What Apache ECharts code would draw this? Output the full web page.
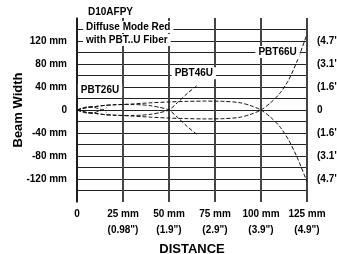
<!DOCTYPE html>
<html>
<head>
<meta charset="utf-8">
<script src="https://cdn.jsdelivr.net/npm/echarts@6/dist/echarts.min.js"></script>
<style>
  html, body { margin: 0; padding: 0; background: #fff; }
  #chart { width: 337px; height: 254px; }
</style>
</head>
<body>
<div id="chart"></div>
<script>
const FONT = "'Liberation Sans Narrow', 'Arial Narrow', 'Liberation Sans', Arial, sans-serif";

// x axis ticks (mm) and labels
const xTicks = [0, 25, 50, 75, 100, 125];
const xLabels = ['0', '25 mm\n(0.98")', '50 mm\n(1.9")', '75 mm\n(2.9")', '100 mm\n(3.9")', '125 mm\n(4.9")'];

// y axis labelled ticks
const yTicks = [120, 80, 40, 0, -40, -80, -120];
const yLabelsMm = ['120 mm', '80 mm', '40 mm', '0', '-40 mm', '-80 mm', '-120 mm'];
const yLabelsIn = ['(4.7")', '(3.1")', '(1.6")', '0', '(1.6")', '(3.1")', '(4.7")'];

// PBT26U beam
const x26 = [0, 3, 6, 9, 12, 14, 16];
const up26 = [0, 3.5, 5.5, 5, 2, 0, -4];
const low26 = [0, -3.5, -5.5, -5, -2, 0, 4];

// PBT46U beam
const x46 = [0, 5, 10, 15, 20, 25, 30, 35, 40, 45, 50, 55, 60, 65];
const up46 = [0, 4, 6, 8, 9, 9.5, 9.5, 9, 7.5, 4.5, 0, -14, -29, -42];
const low46 = [0, -4, -6, -8, -9, -9.5, -9.5, -9, -7.5, -4.5, 0, 14, 29, 42];

// PBT66U beam
const x66 = [0, 5, 10, 15, 20, 30, 40, 50, 60, 70, 80, 88, 94, 100, 105, 110, 115, 120, 125];
const up66 = [0, 4, 6, 8, 9, 10.5, 12.5, 14, 15, 15.5, 15, 13, 8, 0, -12, -28, -52, -85, -125];
const low66 = [0, -4, -6, -8, -9, -10.5, -12.5, -14, -15, -15.5, -15, -13, -8, 0, 12, 28, 52, 88, 132];

// curve labels
const curveNames = ['PBT26U', 'PBT46U', 'PBT66U'];
const curveLabelX = [12.5, 63.5, 109];
const curveLabelY = [35, 64, 101];

const titleLines = ['D10AFPY', 'Diffuse Mode Red', 'with PBT..U Fiber'];

function pairs(xs, ys) {
  return xs.map((x, i) => [x, ys[i]]);
}

// horizontal grid every 20 mm, but none on the top/bottom edge
const hColors = [];
for (let v = -160; v <= 160; v += 20) {
  hColors.push(v === -160 || v === 160 ? 'rgba(0,0,0,0)' : '#222');
}

const curveStyle = { color: '#111', width: 1, type: [4, 2] };
const curves = [
  [x26, up26], [x26, low26],
  [x46, up46], [x46, low46],
  [x66, up66], [x66, low66],
];

const txt = { fontFamily: FONT, fontSize: 10, fontWeight: 'bold', color: '#000' };

const chart = echarts.init(document.getElementById('chart'));

chart.setOption({
  animation: false,
  backgroundColor: '#fff',
  textStyle: { fontFamily: FONT },
  title: titleLines.map((t, i) => ({
    text: t,
    left: i === 0 ? 85 : 83,
    top: [6, 21, 34][i],
    padding: [1, 3],
    backgroundColor: '#fff',
    textStyle: txt,
  })),
  grid: { left: 77, right: 30, top: 18, bottom: 52, containLabel: false, outerBoundsMode: 'none' },
  xAxis: {
    type: 'value',
    min: 0,
    max: 125,
    interval: 25,
    name: 'DISTANCE',
    nameLocation: 'middle',
    nameGap: 30,
    nameTextStyle: { fontFamily: FONT, fontSize: 13, fontWeight: 'bold', color: '#000' },
    axisLine: { show: false },
    axisTick: { show: false },
    axisLabel: Object.assign({}, txt, {
      margin: 4,
      lineHeight: 16,
      formatter: (v) => {
        const i = xTicks.indexOf(v);
        return i >= 0 ? xLabels[i] : '';
      },
    }),
    splitLine: { show: true, lineStyle: { color: '#444', width: 2 } },
  },
  yAxis: [
    {
      type: 'value',
      min: -160,
      max: 160,
      interval: 20,
      name: 'Beam Width',
      nameLocation: 'middle',
      nameGap: 52,
      nameMoveOverlap: false,
      nameTextStyle: { fontFamily: FONT, fontSize: 13, fontWeight: 'bold', color: '#000' },
      axisLine: { show: true, lineStyle: { color: '#111', width: 1.5 } },
      axisTick: { show: false },
      axisLabel: Object.assign({}, txt, {
        margin: 10,
        formatter: (v) => {
          const i = yTicks.indexOf(v);
          return i >= 0 ? yLabelsMm[i] : '';
        },
      }),
      splitLine: { show: true, lineStyle: { color: hColors, width: 1 } },
    },
    {
      type: 'value',
      position: 'right',
      min: -160,
      max: 160,
      interval: 20,
      axisLine: { show: false },
      axisTick: { show: false },
      splitLine: { show: false },
      axisLabel: Object.assign({}, txt, {
        margin: 10,
        formatter: (v) => {
          const i = yTicks.indexOf(v);
          return i >= 0 ? yLabelsIn[i] : '';
        },
      }),
    },
  ],
  series: curves.map(([xs, ys]) => ({
    type: 'line',
    data: pairs(xs, ys),
    smooth: 0.25,
    symbol: 'none',
    lineStyle: curveStyle,
    z: 3,
  })).concat([
    {
      type: 'scatter',
      symbolSize: 1,
      itemStyle: { color: 'rgba(0,0,0,0)' },
      silent: true,
      z: 4,
      data: curveNames.map((n, i) => [curveLabelX[i], curveLabelY[i], n]),
      label: Object.assign({}, txt, {
        show: true,
        position: 'inside',
        opacity: 1,
        textBorderWidth: 0,
        formatter: (p) => p.data[2],
        backgroundColor: '#fff',
        padding: [1, 3],
      }),
    },
  ]),
});
</script>
</body>
</html>
